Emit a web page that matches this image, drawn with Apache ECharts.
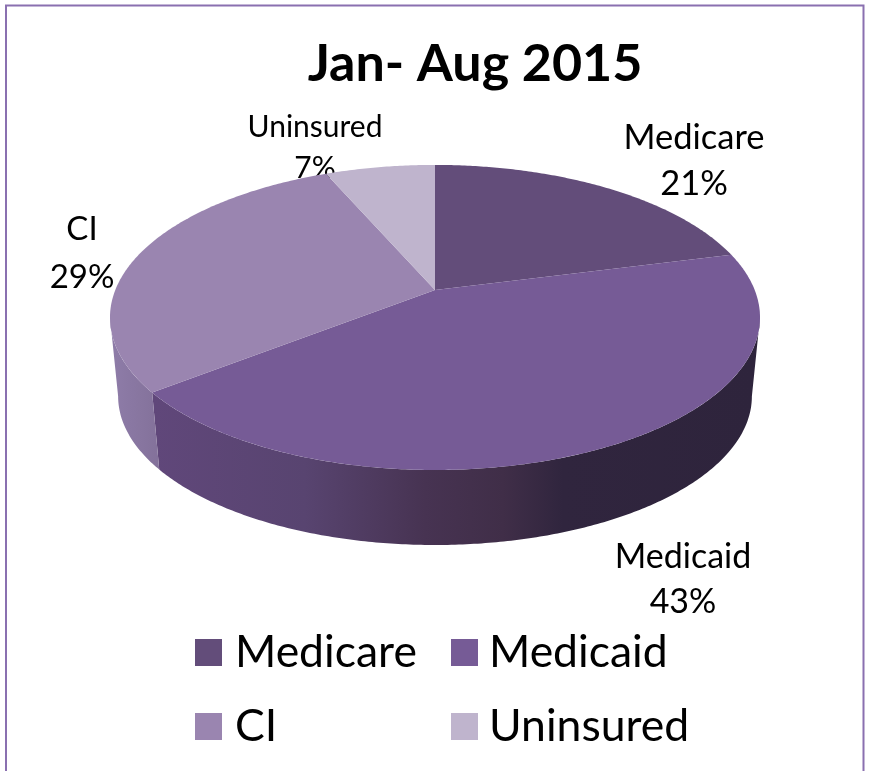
<!DOCTYPE html>
<html>
<head>
<meta charset="utf-8">
<style>html,body{margin:0;padding:0;background:#fff}#chart{width:869px;height:771px}</style>
<script src="https://cdn.jsdelivr.net/npm/echarts@6/dist/echarts.min.js"></script>
</head>
<body>
<div id="chart"></div>
<script>
const categories = ['Medicare', 'Medicaid', 'CI', 'Uninsured'];
const shares = [21, 43.4, 29.1, 6.5];
const topColors = ['#634d7a', '#765b96', '#9a85b0', '#bfb4cd'];

// Layout / style constants (not data)
const FONT = 'Lato, "Noto Sans", sans-serif';
const apex = { x: 435, y: 290 };
const SCALE_X = 319.7, SCALE_Y = 147.6, PERSPECTIVE = 0.18;
const BASE_DROP = 79.5, BASE_SCALE = 0.975;
const labelPlacement = [
  { x: 694, y: 161, size: 34.5, lh: 46 },
  { x: 683, y: 580, size: 34, lh: 45 },
  { x: 82, y: 253, size: 33, lh: 48 },
  { x: 315, y: 148, size: 30, lh: 41 }
];
const sideFills = [
  null,
  [[0, '#60477a'], [0.25, '#584470'], [0.45, '#473352'], [0.58, '#402e48'], [0.68, '#30253e'], [1, '#2e243c']],
  [[0, '#8e7ca8'], [1, '#83719a']],
  null
];
const sideRanges = [null, [155, 755], [112, 160], null];
const legendPlacement = [
  { left: 190, top: 625 },
  { left: 446, top: 625 },
  { left: 190, top: 699 },
  { left: 446, top: 699 }
];
const legendTextGap = [8, 6, 8, 6];

const total = shares.reduce((a, b) => a + b, 0);
// Angles (clockwise from top) where the rim turns from back to front
const FRONT_START = Math.acos(-PERSPECTIVE);
const FRONT_END = 2 * Math.PI - FRONT_START;

function project(theta, scale, drop) {
  const u = Math.sin(theta), v = -Math.cos(theta);
  const w = 1 - PERSPECTIVE * v;
  return [
    apex.x + scale * SCALE_X * u / w,
    apex.y + drop + scale * SCALE_Y * v / w
  ];
}
function arc(a0, a1, scale, drop) {
  const n = Math.max(8, Math.ceil((a1 - a0) / 0.01));
  const pts = [];
  for (let i = 0; i <= n; i++) pts.push(project(a0 + (a1 - a0) * i / n, scale, drop));
  return pts;
}

function sliceRenderer(idx) {
  const before = shares.slice(0, idx).reduce((a, b) => a + b, 0);
  return function (params, api) {
    const value = api.value(0);
    const a0 = before / total * 2 * Math.PI;
    const a1 = (before + value) / total * 2 * Math.PI;
    const place = labelPlacement[idx];
    const children = [];
    const s0 = Math.max(a0, FRONT_START), s1 = Math.min(a1, FRONT_END);
    if (s1 > s0 && sideFills[idx]) {
      children.push({
        type: 'polygon', z2: 1, silent: true,
        shape: { points: arc(s0, s1, 1, 0).concat(arc(s0, s1, BASE_SCALE, BASE_DROP).reverse()) },
        style: {
          fill: {
            type: 'linear', global: true,
            x: sideRanges[idx][0], y: 0, x2: sideRanges[idx][1], y2: 0,
            colorStops: sideFills[idx].map(s => ({ offset: s[0], color: s[1] }))
          }
        }
      });
    }
    children.push({
      type: 'text', z2: 2, silent: true,
      style: {
        x: place.x, y: place.y,
        text: categories[idx] + '\n' + Math.round(value / total * 100) + '%',
        fill: '#000', align: 'center', verticalAlign: 'middle',
        font: place.size + 'px ' + FONT, lineHeight: place.lh
      }
    });
    children.push({
      type: 'polygon', z2: 3, silent: true,
      shape: { points: [[apex.x, apex.y]].concat(arc(a0, a1, 1, 0)) },
      style: { fill: topColors[idx] }
    });
    return { type: 'group', children };
  };
}

const chart = echarts.init(document.getElementById('chart'), null, { renderer: 'canvas' });
chart.setOption({
  animation: false,
  backgroundColor: '#fff',
  title: {
    text: 'Jan- Aug 2015', left: 470, top: 33, textAlign: 'center',
    textStyle: { fontFamily: FONT, fontSize: 52, fontWeight: 'bold', color: '#000' }
  },
  legend: categories.map((name, i) => ({
    data: [name],
    left: legendPlacement[i].left, top: legendPlacement[i].top,
    itemWidth: 27, itemHeight: 27, icon: 'rect', selectedMode: false,
    textStyle: { fontFamily: FONT, fontSize: 44.5, color: '#000', padding: [0, 0, 0, legendTextGap[i]] }
  })),
  graphic: [{
    type: 'polyline', silent: true, z: -1,
    shape: { points: [[6, 780], [6, 5.5], [863.5, 5.5], [863.5, 780]] },
    style: { fill: 'none', stroke: '#8a70b0', lineWidth: 2 }
  }],
  series: categories.map((name, i) => ({
    type: 'custom', name, coordinateSystem: 'none',
    itemStyle: { color: topColors[i] },
    renderItem: sliceRenderer(i),
    data: [shares[i]]
  }))
});
</script>
</body>
</html>
